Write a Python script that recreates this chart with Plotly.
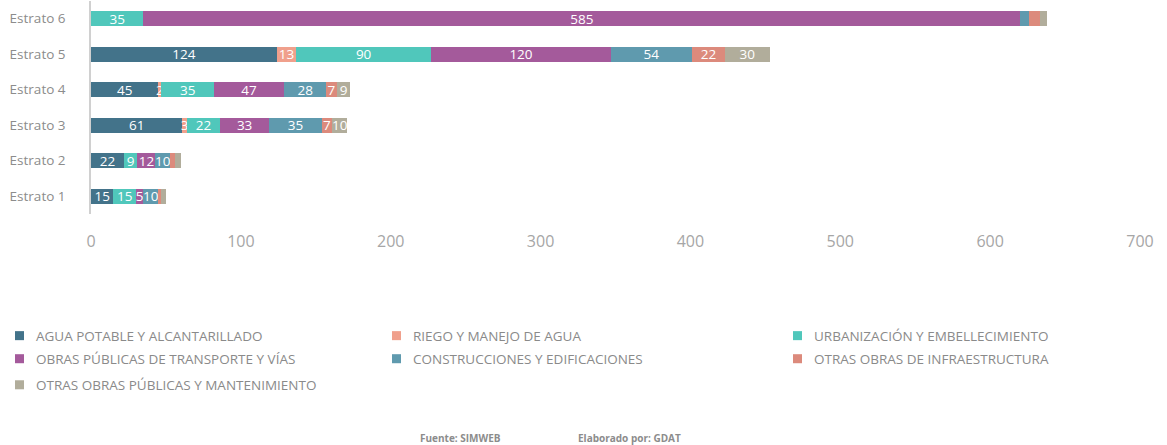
import plotly.graph_objects as go

estratos = ["Estrato 1", "Estrato 2", "Estrato 3", "Estrato 4", "Estrato 5", "Estrato 6"]

agua = [15, 22, 61, 45, 124, 0]
riego = [0, 0, 3, 2, 13, 0]
urbanizacion = [15, 9, 22, 35, 90, 35]
obras_transporte = [5, 12, 33, 47, 120, 585]
construcciones = [10, 10, 35, 28, 54, 6]
otras_infra = [2, 3, 7, 7, 22, 7]
otras_obras = [3, 4, 10, 9, 30, 5]

# which segments carry a visible label (small ones are left blank in the original)
show_agua = [1, 1, 1, 1, 1, 0]
show_riego = [0, 0, 1, 1, 1, 0]
show_urb = [1, 1, 1, 1, 1, 1]
show_obras = [1, 1, 1, 1, 1, 1]
show_cons = [1, 1, 1, 1, 1, 0]
show_infra = [0, 0, 1, 1, 1, 0]
show_otras = [0, 0, 1, 1, 1, 0]

series = [
    ("AGUA POTABLE Y ALCANTARILLADO", agua, show_agua, "#43738a"),
    ("RIEGO Y MANEJO DE AGUA", riego, show_riego, "#f0a08c"),
    ("URBANIZACIÓN Y EMBELLECIMIENTO", urbanizacion, show_urb, "#50c7bb"),
    ("OBRAS PÚBLICAS DE TRANSPORTE Y VÍAS", obras_transporte, show_obras, "#a45a9b"),
    ("CONSTRUCCIONES Y EDIFICACIONES", construcciones, show_cons, "#5f9aae"),
    ("OTRAS OBRAS DE INFRAESTRUCTURA", otras_infra, show_infra, "#dc8a7c"),
    ("OTRAS OBRAS PÚBLICAS Y MANTENIMIENTO", otras_obras, show_otras, "#b1ad9b"),
]

FONT = "Open Sans"

# plot area in pixels: x 91..1140, y 1.3..213.7
def px_x(px):
    return (px - 91) / 1049

def px_y(py):
    return (213.7 - py) / 212.4

fig = go.Figure()
for name, vals, show, color in series:
    labels = [str(v) if s else "" for v, s in zip(vals, show)]
    fig.add_trace(go.Bar(
        y=estratos, x=vals, name=name, orientation="h",
        marker=dict(color=color, line=dict(width=0)),
        text=labels, textposition="inside", insidetextanchor="middle",
        textangle=0, constraintext="none",
        textfont=dict(color="white", size=13.5, family=FONT),
        hoverinfo="x+name", showlegend=False,
    ))

# hand-made legend in three columns (as in the original)
legend_slots = [(15, 335), (392, 335), (793, 335),
                (15, 358), (392, 358), (793, 358),
                (15, 384)]
shapes = []
annotations = []
for (name, _, _, color), (lx, ly) in zip(series, legend_slots):
    shapes.append(dict(type="rect", xref="paper", yref="paper",
                       x0=px_x(lx), x1=px_x(lx + 9), y0=px_y(ly + 4.5), y1=px_y(ly - 4.5),
                       fillcolor=color, line=dict(width=0)))
    annotations.append(dict(text=name, xref="paper", yref="paper",
                            x=px_x(lx + 19), y=px_y(ly), xanchor="left", yanchor="middle",
                            showarrow=False,
                            font=dict(size=13.5, color="#8a8a8a", family=FONT)))

annotations += [
    dict(text="<b>Fuente: SIMWEB</b>", xref="paper", yref="paper",
         x=px_x(418), y=px_y(437), xanchor="left", yanchor="middle", showarrow=False,
         font=dict(size=10, color="#8c8c8c", family=FONT)),
    dict(text="<b>Elaborado por: GDAT</b>", xref="paper", yref="paper",
         x=px_x(576), y=px_y(437), xanchor="left", yanchor="middle", showarrow=False,
         font=dict(size=10, color="#8c8c8c", family=FONT)),
]

fig.update_layout(
    barmode="stack",
    bargap=0.58,
    width=1167, height=445,
    margin=dict(l=91, r=27, t=1, b=231),
    paper_bgcolor="white", plot_bgcolor="white",
    font=dict(family=FONT, color="#8a8a8a"),
    uniformtext=dict(minsize=13.5, mode="show"),
    showlegend=False,
    xaxis=dict(
        range=[0, 700], dtick=100, showgrid=False, zeroline=False,
        showline=False, ticks="",
        tickfont=dict(size=16, color="#a6a6a6", family=FONT),
        ticklabelstandoff=16,
    ),
    yaxis=dict(
        showgrid=False, showline=True, linecolor="#d0d0d0", linewidth=1.5,
        ticks="", tickfont=dict(size=13.5, color="#8c8c8c", family=FONT),
        ticklabelstandoff=21,
    ),
    shapes=shapes,
    annotations=annotations,
)

fig.write_html("out.html", config={"displayModeBar": False},
               post_script="document.body.style.margin='0';")
